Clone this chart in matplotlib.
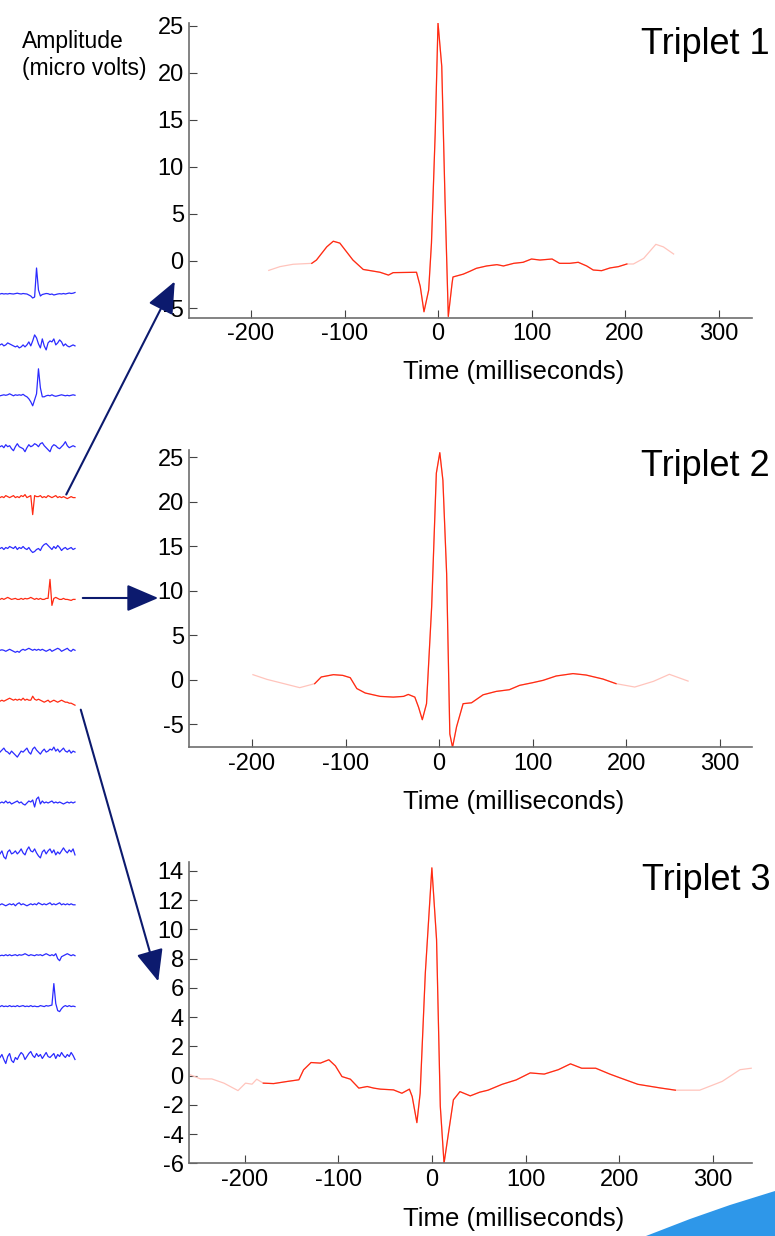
import matplotlib.pyplot as plt
from matplotlib.patches import FancyArrowPatch, Polygon
import numpy as np

W, H = 775, 1236

# ---- averaged waveforms (time in ms, amplitude in micro volts) ----
t1 = [-181, -169, -155, -135, -130, -119, -112, -105, -91, -80, -62, -53, -48, -23,
      -19, -15, -10, -7, -3, 0, 4, 7.5, 11, 15, 16, 27, 34, 41, 52, 63, 70, 81, 91,
      100, 109, 122, 130, 141, 150, 159, 166, 175, 184, 193, 202, 209, 220, 233, 241, 252]
v1 = [-1.0, -0.6, -0.35, -0.25, 0.1, 1.5, 2.1, 1.9, 0.1, -0.9, -1.2, -1.5, -1.24, -1.2,
      -2.7, -5.4, -3.1, 1.9, 13.6, 25.3, 20.7, 6.5, -5.9, -2.4, -1.7, -1.4, -1.1, -0.78, -0.53, -0.39, -0.53, -0.25, -0.14,
      0.21, 0.1, 0.21, -0.25, -0.25, -0.14, -0.53, -0.96, -1.03, -0.74, -0.6, -0.32, -0.32, 0.28, 1.77, 1.5, 0.74]

t2 = [-199, -184, -170, -149, -133, -126, -113, -103, -95, -88, -79, -63, -49, -38, -33,
      -26, -22, -18, -13.5, -8, -3, 0.7, 4, 8, 11.4, 14.3, 18.6, 25.6, 34.6, 47, 61,
      75, 86, 100, 111, 125, 143, 157, 175, 189, 209, 229, 246, 266]
v2 = [0.56, 0.03, -0.34, -0.9, -0.45, 0.3, 0.56, 0.48, 0.22, -1.0, -1.5, -1.88, -1.96, -1.88, -1.66,
      -1.96, -3.1, -4.5, -2.7, 8.2, 23.2, 25.5, 22.4, 11.9, -6.1, -7.6, -5.3, -2.7, -2.6, -1.7, -1.32,
      -1.13, -0.64, -0.34, -0.08, 0.41, 0.68, 0.52, 0.07, -0.45, -0.83, -0.19, 0.6, -0.16]

t3 = [-258, -247, -235, -222, -207, -199, -192, -187, -180, -169, -155, -142, -137, -129,
      -119, -110, -103, -96, -87, -78, -69, -62, -55, -41, -32, -24, -21, -16, -12.5, -7,
      0, 5, 9, 13, 17.7, 23, 30, 41, 51, 60, 75, 90, 105, 120, 135, 148, 160, 175, 190,
      201, 220, 244, 260, 286, 310, 329, 341]
v3 = [0.05, -0.23, -0.23, -0.52, -1.03, -0.52, -0.59, -0.25, -0.52, -0.55, -0.41, -0.29, 0.39, 0.89,
      0.85, 1.08, 0.66, -0.07, -0.25, -0.86, -0.75, -0.86, -0.93, -0.98, -1.21, -0.93, -1.44, -3.22, -1.21, 7.0,
      14.2, 9.3, -2.1, -6.0, -3.95, -1.66, -1.1, -1.39, -1.14, -1.0, -0.6, -0.3, 0.18, 0.1, 0.4, 0.8, 0.5, 0.5, 0.1,
      -0.16, -0.6, -0.85, -1.0, -1.0, -0.4, 0.4, 0.5]

# ---- single-channel traces on the left (pixel amplitudes) ----
traces = [
    [0, .5, 0, .3, 0, .5, .2, 0, .4, .8, .3, 0, .5, .2, 0, -1, -2, -4, -3, 26, 4, -2, -.5, 0, .5, .3, -.5, 0, -1, -.5, 0, .3, 0, .5, 0, .5, 1, .5, .8, 1.5],
    [0, 1, -1, 0, 2, 1, 0, -1, -2, -1, -3, -2, 0, -2, 0, 3, -1, 4, 10, 7, 1, -3, 6, -1, -5, 2, 4, 3, 6, 0, 2, 5, 3, -1, 1, -1, -2, -1, 0, -1],
    [0, .5, 1, .5, 1, 2, 1, 0, 1, .5, 1, .5, 1.5, 0, -1, -3, -6, -10, -4, 2, 27, 8, -1, -1, 0, .5, 0, 1, 0, -.5, 0, .5, 1, .5, 0, .5, 0, .5, 1, .5],
    [0, 1, -1, 2, 0, 1, -2, -4, 0, 3, 0, -1, -2, -5, -1, 2, 0, 1, 3, 2, 0, 3, 4, 1, -1, -3, -5, 0, 2, 1, -1, -2, 0, 2, 5, 1, -1, 0, 1, 0],
    [0, 1, 0, 2, 1, 0, 1, 2, 0, 1, 0, 2, 1, 3, 0, 1, 2, -17, 2, 1, 1, 2, 0, 1, 0, 2, 1, 0, 1, 2, 0, 1, 0, 1, 0, -1, 0, 1, 0, 0],
    [0, 1, -1, 1, 0, 2, 1, 0, 2, -1, 1, 0, 2, 0, -1, 1, -2, -4, -3, -1, 0, -2, 2, 4, 5, 3, 1, -1, 2, 0, 3, 1, -2, 0, 1, -1, 0, 1, -1, 0],
    [0, 1, 0, 1, 2, 1, 0, .5, 1, 0, 0, 1, 0, 1, .5, 1, 2, 1, 0, 1, 0, 1, 0, 0, 1, 1, 20, -6, 1, 2, 1, 0, 0, 1, 0, 0, -.5, -1, 0, 0],
    [0, .5, 0, -1, 0, 1, 0, -1, -2, -1, -2, 0, 1, 0, 1, 2, 1, 0, 1, 0, 1, 0, 1, 0, -1, 0, 1, -1, 0, 1, 2, 1, -1, 0, 1, 2, 0, -1, 1, 0],
    [0, 1, 0, 1, 2, 3, 2, 1, 2, 1, 2, 1, 3, 1, 2, 1, 1, 5, 2, 1, 2, 1, 0, -1, 0, 1, -1, 0, 1, 0, -1, 0, 1, 0, -1, -1, -2, -2, -3, -4],
    [0, 2, 4, 1, 0, -2, 1, -1, -3, -5, -2, 1, 0, 2, 4, 0, -2, 3, 5, 2, 0, -2, 1, 3, 0, 1, 3, 2, 5, 1, 3, 0, 2, 4, 1, 0, 2, -1, 1, 0],
    [0, 1, 0, 2, 0, 1, -1, 0, 1, 2, 0, 1, -1, -2, 0, 2, 1, 3, -4, 4, 6, -1, 2, 0, 1, 0, 1, 2, 0, 1, 0, 1, 0, -1, 0, 1, 0, 1, 0, 1],
    [0, 3, -3, -5, 2, 4, 0, 1, 3, 0, 2, 5, 1, -1, 4, 7, 3, 2, 5, 1, -2, -4, 2, 4, 0, 3, 5, 1, 4, -1, 2, 0, 3, 6, 3, 1, 4, 2, 5, -1],
    [0, 1, 0, -1, 0, 1, 0, 1, -1, 1, 2, 0, 1, 0, -1, 0, 1, 0, 1, 0, 2, 1, 0, 1, 0, 1, 2, 0, 1, 0, 1, 2, 0, 1, 0, 1, 0, 1, 0, 0],
    [0, .5, 0, 1, 0, 1, 0, .5, 1, 0, 1, .5, 1, 2, 1, 0, 1, .5, 0, 1, .5, 1, 0, 1, 2, 1, 0, 1, 0, 2, -3, -5, -1, 0, 1, 2, 1, 0, 1, 0],
    [0, 1, 0, .5, 0, 1, 0, .5, 0, 1, 0, .5, 1, 0, .5, 0, 1, 0, .5, 0, 0, 1, .5, 0, 1, .5, 1, 1.5, 23, 3, -4, -5, -2, 0, 1, 0, 1, 0, .5, 0],
    [0, 3, -2, -6, 1, 4, -3, -5, 0, -2, 2, 5, 3, -2, 1, 4, 6, 2, 0, 4, 1, 3, -1, 2, 5, 1, 0, 2, 4, -1, 3, 1, 5, 2, 0, 3, 1, 5, 2, -2],
]
red_rows = [4, 6, 8]

RED = '#ff2a12'
PINK = '#ffc4bc'
BLUE = '#2b2bff'
NAVY = '#0c1a6e'
plt.rcParams['font.family'] = ['Liberation Sans', 'DejaVu Sans']
plt.rcParams['axes.unicode_minus'] = False

fig = plt.figure(figsize=(W / 100, H / 100), dpi=100)


def px_axes(l, t, r, b):
    return fig.add_axes([l / W, 1 - b / H, (r - l) / W, (b - t) / H])


def fpt(x, y):
    return (x / W, 1 - y / H)


panels = [
    (t1, v1, (23, 317.7), (-266, 335.5), (-6.03, 25.3), np.arange(-5, 26, 5), (-150, 208), 'Triplet 1', 45),
    (t2, v2, (450, 747.3), (-267, 334), (-7.6, 25.8), np.arange(-5, 26, 5), (-138, 205), 'Triplet 2', 467),
    (t3, v3, (862, 1163.3), (-259, 341.5), (-6, 14.6), np.arange(-6, 15, 2), (-180, 262), 'Triplet 3', 880),
]

for t, v, (top, bot), xl, yl, yt, (s0, s1), title, ty in panels:
    ax = px_axes(189.3, top, 751.7, bot)
    t = np.array(t, dtype=float)
    v = np.array(v, dtype=float)
    ax.plot(t, v, color=PINK, lw=0.9)
    m = (t >= s0) & (t <= s1)
    ax.plot(t[m], v[m], color=RED, lw=0.9)
    ax.set_xlim(*xl)
    ax.set_ylim(*yl)
    ax.set_xticks(np.arange(-200, 301, 100))
    ax.set_yticks(yt)
    ax.spines['top'].set_visible(False)
    ax.spines['right'].set_visible(False)
    for s in ('left', 'bottom'):
        ax.spines[s].set_color('#6e6e6e')
        ax.spines[s].set_linewidth(1.2)
    ax.tick_params(direction='in', length=6, width=0.8, color='#444444',
                   labelsize=17, pad=4)
    ax.set_xlabel('Time (milliseconds)', fontsize=18.5)
    ax.xaxis.set_label_coords(0.577, -0.145)
    fig.text(*fpt(770, ty), title, fontsize=26, ha='right', va='center')

fig.text(*fpt(22, 55), 'Amplitude\n(micro volts)', fontsize=16.5, ha='left', va='center',
         linespacing=1.2)

# left column of traces
ax_l = px_axes(0, 250, 80, 1080)
ax_l.set_xlim(0, 80)
ax_l.set_ylim(1080, 250)
ax_l.axis('off')
for i, tr in enumerate(traces):
    base = 294 + i * 50.9
    xs = np.linspace(0, 75, len(tr))
    ax_l.plot(xs, base - np.array(tr), color=RED if i in red_rows else BLUE, lw=0.9)

# arrows from traces to averages
for (x0, y0), (x1, y1) in [((65, 497), (176, 279)), ((80, 598), (161, 598)),
                           ((80, 707), (159, 984))]:
    fig.add_artist(FancyArrowPatch(fpt(x0, y0), fpt(x1, y1), transform=fig.transFigure,
                                   arrowstyle='-|>,head_length=1.4,head_width=0.6',
                                   mutation_scale=14, color=NAVY, lw=1.5))

# logo corner
fig.add_artist(Polygon([fpt(646, 1236), fpt(690, 1219), fpt(730, 1205), fpt(775, 1191),
                        fpt(775, 1236)], closed=True, transform=fig.transFigure,
                       facecolor='#2e97e9', edgecolor='none'))

fig.savefig('out.png', dpi=100)
